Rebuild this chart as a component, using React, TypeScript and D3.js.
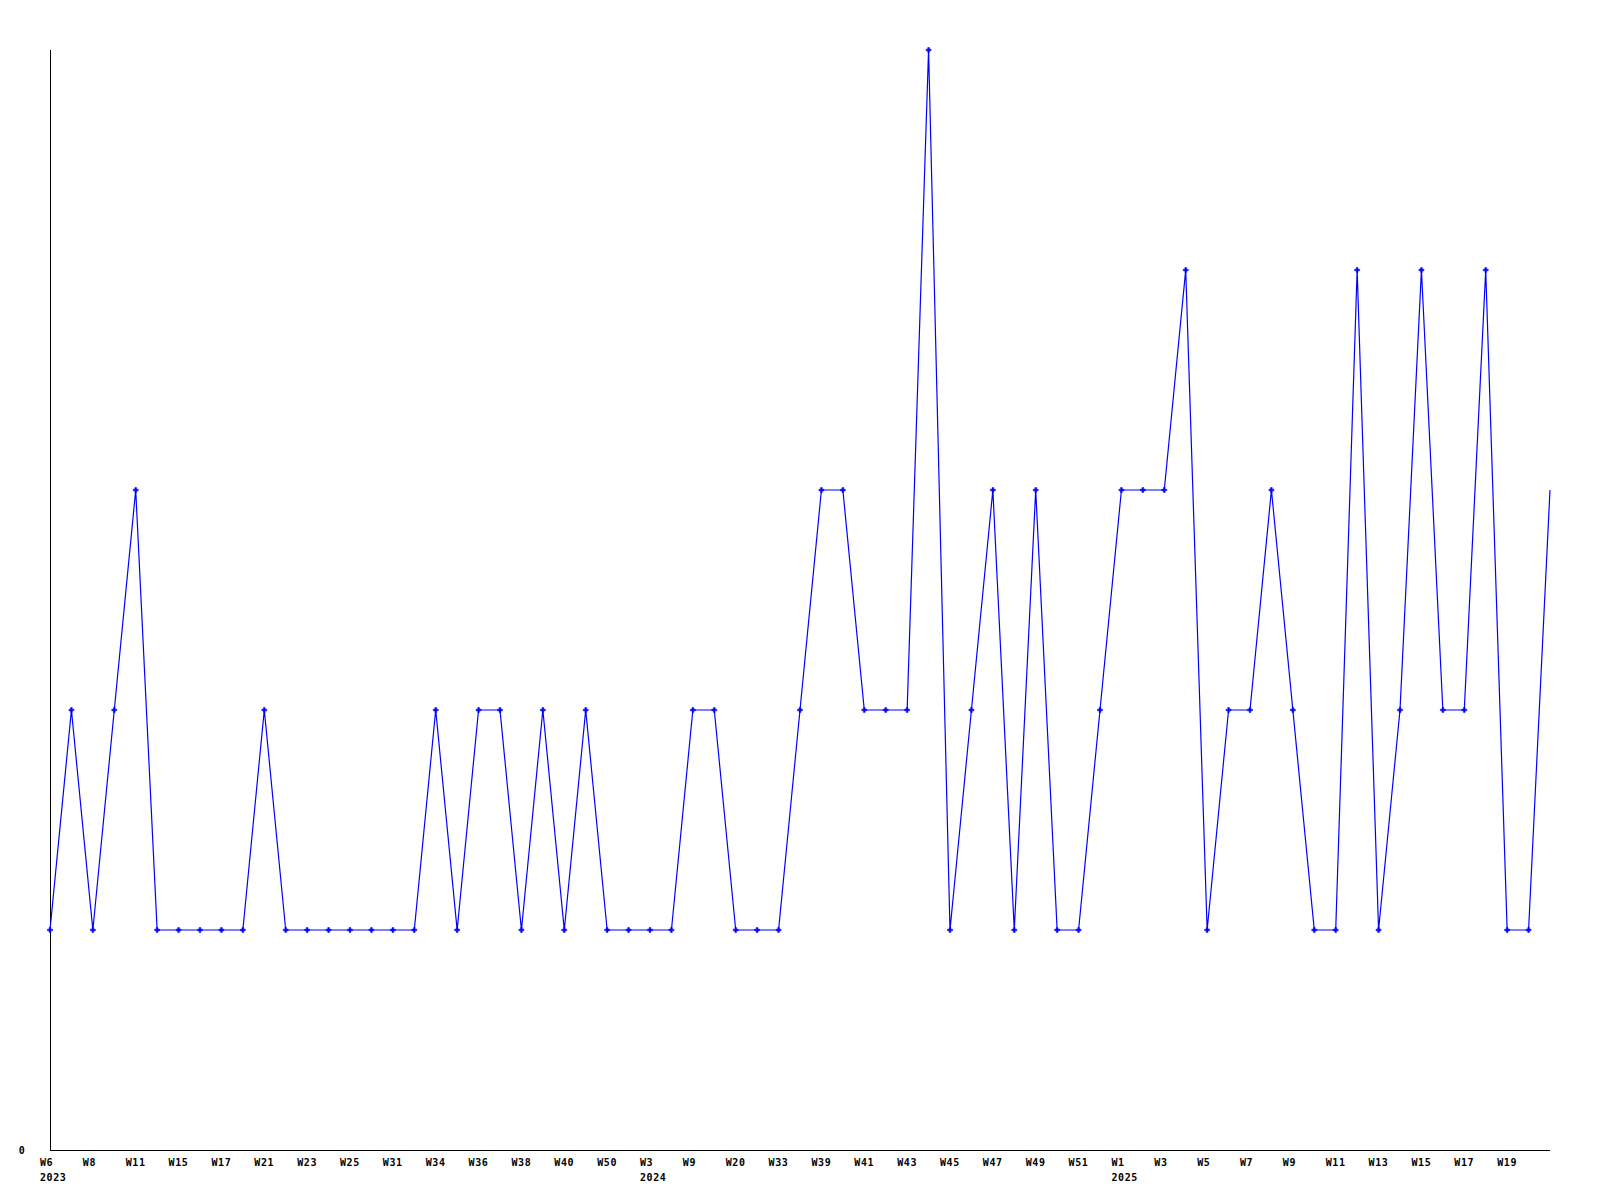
import React from "react";
import * as d3 from "d3";

const weeks = [
  "W6", "W7", "W8", "W10", "W11", "W13", "W15", "W16", "W17", "W19",
  "W21", "W22", "W23", "W24", "W25", "W28", "W31", "W33", "W34", "W35",
  "W36", "W37", "W38", "W39", "W40", "W45", "W50", "W52", "W3", "W5",
  "W9", "W14", "W20", "W27", "W33", "W37", "W39", "W40", "W41", "W42",
  "W43", "W44", "W45", "W46", "W47", "W48", "W49", "W50", "W51", "W52",
  "W1", "W2", "W3", "W4", "W5", "W6", "W7", "W8", "W9", "W10",
  "W11", "W12", "W13", "W14", "W15", "W16", "W17", "W18", "W19", "W20",
  "W21",
];

const years = [
  2023, 2023, 2023, 2023, 2023, 2023, 2023, 2023, 2023, 2023,
  2023, 2023, 2023, 2023, 2023, 2023, 2023, 2023, 2023, 2023,
  2023, 2023, 2023, 2023, 2023, 2023, 2023, 2023, 2024, 2024,
  2024, 2024, 2024, 2024, 2024, 2024, 2024, 2024, 2024, 2024,
  2024, 2024, 2024, 2024, 2024, 2024, 2024, 2024, 2024, 2024,
  2025, 2025, 2025, 2025, 2025, 2025, 2025, 2025, 2025, 2025,
  2025, 2025, 2025, 2025, 2025, 2025, 2025, 2025, 2025, 2025,
  2025,
];

const values = [
  1, 2, 1, 2, 3, 1, 1, 1, 1, 1,
  2, 1, 1, 1, 1, 1, 1, 1, 2, 1,
  2, 2, 1, 2, 1, 2, 1, 1, 1, 1,
  2, 2, 1, 1, 1, 2, 3, 3, 2, 2,
  2, 5, 1, 2, 3, 1, 3, 1, 1, 2,
  3, 3, 3, 4, 1, 2, 2, 3, 2, 1,
  1, 4, 1, 2, 4, 2, 2, 4, 1, 1,
  3,
];

const yTickLabels = ["0"];

export default function App() {
  const width = 1600;
  const height = 1200;
  const left = 50;
  const right = 1550;
  const top = 50;
  const bottom = 1150;

  const x = d3.scaleLinear().domain([0, values.length - 1]).range([left, right]);
  const y = d3.scaleLinear().domain([0, 5]).range([bottom, top]);

  const line = d3
    .line<number>()
    .x((_, i) => x(i))
    .y((d) => y(d));

  const marker = d3.symbol(d3.symbolCross, 14)() || "";

  const font = "'DejaVu Sans Mono', monospace";

  const tickIdx = weeks.map((_, i) => i).filter((i) => i % 2 === 0 && i < weeks.length - 1);
  let prevYear: number | null = null;
  const ticks = tickIdx.map((i) => {
    const showYear = years[i] !== prevYear;
    prevYear = years[i];
    return { i, label: weeks[i], year: showYear ? String(years[i]) : "" };
  });

  const textProps = {
    fontFamily: font,
    fontWeight: "bold" as const,
    fontSize: 10,
    letterSpacing: 0.6,
    fill: "#000",
  };

  return (
    <svg
      width={width}
      height={height}
      style={{ position: "absolute", left: 0, top: 0, background: "#fff" }}
    >
      <rect x={0} y={0} width={width} height={height} fill="#fff" />
      <line x1={left + 0.5} x2={left + 0.5} y1={top} y2={bottom + 0.5} stroke="#000" strokeWidth={1} shapeRendering="crispEdges" />
      <line x1={left} x2={right} y1={bottom + 0.5} y2={bottom + 0.5} stroke="#000" strokeWidth={1} shapeRendering="crispEdges" />
      <path
        d={line(values) || ""}
        fill="none"
        stroke="#0000ff"
        strokeWidth={1.2}
      />
      {values.slice(0, values.length - 1).map((v, i) => (
        <path key={i} d={marker} transform={`translate(${x(i)},${y(v)})`} fill="#0000ff" stroke="#0000ff" strokeWidth={0.5} />
      ))}
      {yTickLabels.map((t, k) => (
        <text key={k} x={22} y={y(0) + 4} textAnchor="middle" {...textProps}>
          {t}
        </text>
      ))}
      {ticks.map((t) => (
        <g key={t.i}>
          <text x={x(t.i) - 10} y={1165.5} {...textProps}>
            {t.label}
          </text>
          {t.year && (
            <text x={x(t.i) - 10} y={1181} {...textProps}>
              {t.year}
            </text>
          )}
        </g>
      ))}
    </svg>
  );
}
